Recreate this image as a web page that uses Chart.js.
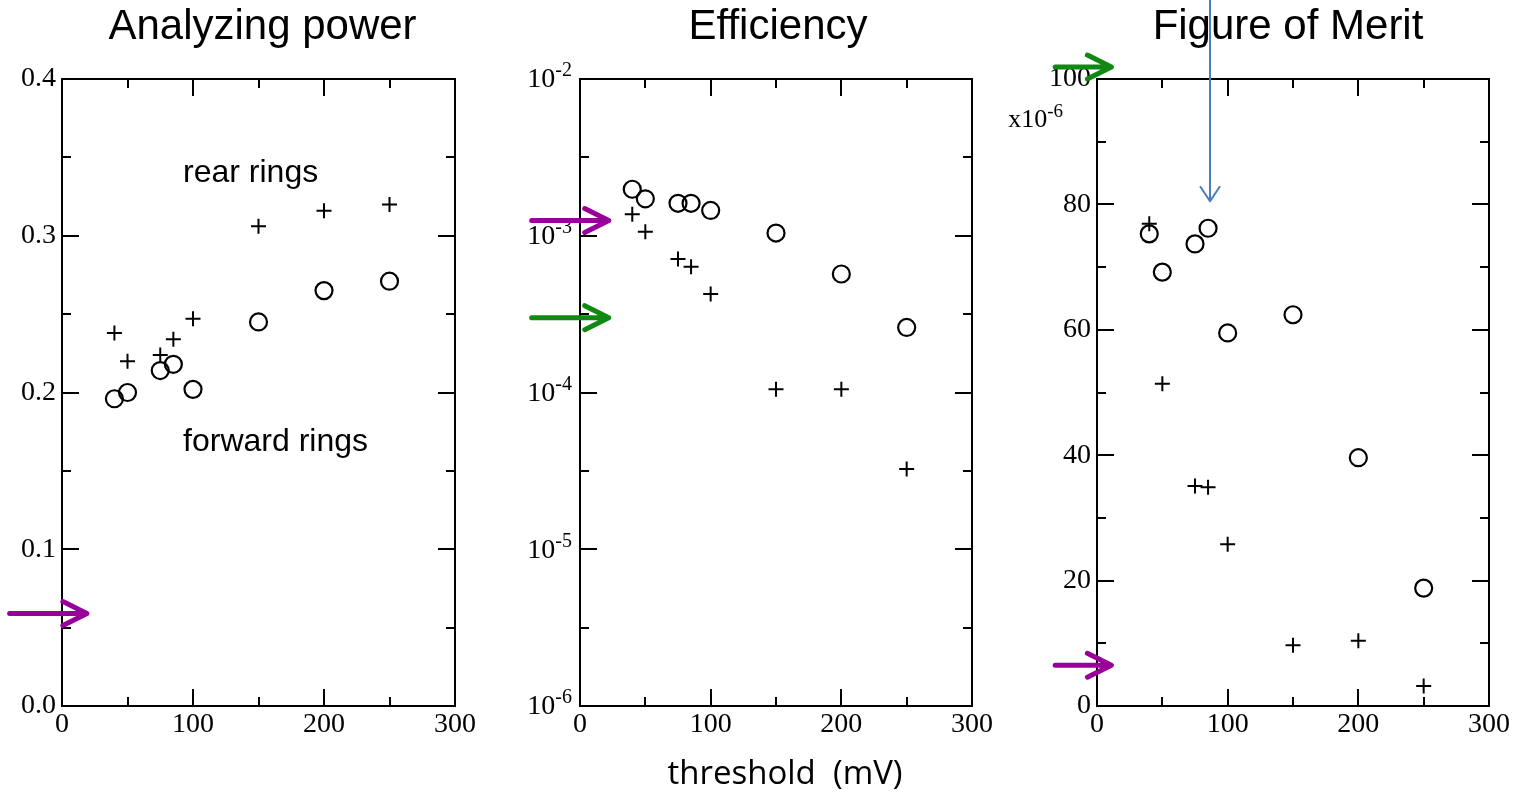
<!DOCTYPE html>
<html>
<head>
<meta charset="utf-8">
<script src="https://cdn.jsdelivr.net/npm/chart.js"></script>
<style>
  body { margin: 0; background: #fff; }
  #wrap { position: relative; width: 1519px; height: 798px; overflow: hidden; }
  canvas { position: absolute; left: 0; top: 0; }
</style>
</head>
<body>
<div id="wrap">
  <canvas id="apChart" width="1519" height="798"></canvas>
  <canvas id="effChart" width="1519" height="798"></canvas>
  <canvas id="fomChart" width="1519" height="798"></canvas>
</div>
<script>
// threshold (mV) for every measured point
const thresholds = [40, 50, 75, 85, 100, 150, 200, 250];

// analyzing power
const apRear    = [0.238, 0.220, 0.224, 0.234, 0.247, 0.306, 0.316, 0.320];
const apForward = [0.196, 0.200, 0.214, 0.218, 0.202, 0.245, 0.265, 0.271];

// efficiency (log scale)
const effRear    = [1.37e-3, 1.06e-3, 7.1e-4, 6.35e-4, 4.25e-4, 1.05e-4, 1.05e-4, 3.25e-5];
const effForward = [1.98e-3, 1.72e-3, 1.61e-3, 1.61e-3, 1.45e-3, 1.04e-3, 5.7e-4, 2.6e-4];

// figure of merit, in units of 1e-6
const fomRear    = [76.9, 51.4, 35.1, 34.9, 25.8, 9.7, 10.4, 3.2];
const fomForward = [75.3, 69.2, 73.7, 76.2, 59.5, 62.4, 39.6, 18.8];

// tick labels
const xTicks = [0, 100, 200, 300];
const xMinor = [50, 150, 250];
const apTicks = [0, 0.1, 0.2, 0.3, 0.4];
const apMinor = [0.05, 0.15, 0.25, 0.35];
const effTicks = [1e-6, 1e-5, 1e-4, 1e-3, 1e-2];
const effMinor = [3.162e-6, 3.162e-5, 3.162e-4, 3.162e-3];
const fomTicks = [0, 20, 40, 60, 80, 100];
const fomMinor = [10, 30, 50, 70, 90];

const serif = '"Liberation Serif", "Times New Roman", serif';
const tickFont = { family: serif, size: 28 };
const sansFont = '"Liberation Sans", Arial, sans-serif';

function pts(xs, ys) {
    return xs.map((x, i) => ({ x: x, y: ys[i] }));
}

// draws "10" with a raised exponent, right edge at x
function powerLabel(ctx, base, exp, x, y, big, small, rise) {
    ctx.font = small + 'px ' + serif;
    const we = ctx.measureText(exp).width;
    ctx.textAlign = 'left';
    ctx.textBaseline = 'middle';
    ctx.fillText(exp, x - we, y - rise);
    ctx.font = big + 'px ' + serif;
    const wb = ctx.measureText(base).width;
    ctx.fillText(base, x - we - wb, y);
}

// frame, inward ticks, titles, arrows and notes
const decoPlugin = {
    id: 'deco',
    afterDraw(chart, args, opts) {
        const ctx = chart.ctx;
        const a = chart.chartArea;
        const xs = chart.scales.x, ys = chart.scales.y;
        ctx.save();
        ctx.strokeStyle = '#000';
        ctx.lineWidth = 2;
        ctx.strokeRect(a.left, a.top, a.right - a.left, a.bottom - a.top);

        ctx.beginPath();
        const hTick = (vals, len) => vals.forEach(v => {
            const y = Math.round(ys.getPixelForValue(v));
            ctx.moveTo(a.left, y); ctx.lineTo(a.left + len, y);
            ctx.moveTo(a.right, y); ctx.lineTo(a.right - len, y);
        });
        const vTick = (vals, len) => vals.forEach(v => {
            const x = Math.round(xs.getPixelForValue(v));
            ctx.moveTo(x, a.top); ctx.lineTo(x, a.top + len);
            ctx.moveTo(x, a.bottom); ctx.lineTo(x, a.bottom - len);
        });
        hTick(opts.yMajor, 17);
        hTick(opts.yMinor, 9);
        vTick(xTicks, 17);
        vTick(xMinor, 9);
        ctx.stroke();

        ctx.fillStyle = '#000';

        // decade labels of a log axis
        if (opts.logLabels) {
            opts.yMajor.forEach(v => {
                const e = String(Math.round(Math.log10(v)));
                powerLabel(ctx, '10', e, a.left - 8, ys.getPixelForValue(v) + 1, 28, 20, 9);
            });
        }

        // title
        ctx.font = '42px ' + sansFont;
        ctx.textAlign = 'center';
        ctx.textBaseline = 'middle';
        ctx.fillText(opts.title, (a.left + a.right) / 2 + (opts.titleShift || 0), 27);

        // notes inside the plot
        ctx.font = '32px ' + sansFont;
        (opts.notes || []).forEach(n => {
            ctx.fillText(n.text, xs.getPixelForValue(n.x), ys.getPixelForValue(n.y));
        });

        // horizontal arrows marking levels
        ctx.lineCap = 'round';
        ctx.lineJoin = 'round';
        (opts.arrows || []).forEach(ar => {
            const y = ys.getPixelForValue(ar.y);
            const x0 = xs.getPixelForValue(ar.from), x1 = xs.getPixelForValue(ar.to);
            ctx.strokeStyle = ar.color;
            ctx.lineWidth = 5;
            ctx.beginPath();
            ctx.moveTo(x0, y); ctx.lineTo(x1 - 3, y);
            ctx.moveTo(x1 - 24, y - 12); ctx.lineTo(x1, y); ctx.lineTo(x1 - 24, y + 12);
            ctx.stroke();
        });

        // vertical pointer
        (opts.pointers || []).forEach(p => {
            const x = xs.getPixelForValue(p.x);
            const y0 = ys.getPixelForValue(p.from), y1 = ys.getPixelForValue(p.to);
            ctx.strokeStyle = p.color;
            ctx.lineWidth = 2;
            ctx.lineCap = 'butt';
            ctx.beginPath();
            ctx.moveTo(x, y0); ctx.lineTo(x, y1);
            ctx.moveTo(x - 10, y1 - 15); ctx.lineTo(x, y1); ctx.lineTo(x + 10, y1 - 15);
            ctx.stroke();
        });

        // multiplier label
        if (opts.multiplier) {
            powerLabel(ctx, 'x10', opts.multiplier, a.left - 34, a.top + 41, 26, 19, 8);
        }

        // common x-axis title
        if (opts.xTitle) {
            ctx.textAlign = 'center';
            ctx.textBaseline = 'middle';
            ctx.font = '33px "Open Sans", "Noto Sans", sans-serif';
            ctx.fillText(opts.xTitle, (a.left + a.right) / 2 + 9, 775);
        }
        ctx.restore();
    }
};

function makeChart(id, cfg) {
    const ctx = document.getElementById(id).getContext('2d');
    return new Chart(ctx, {
        type: 'scatter',
        data: {
            datasets: [{
                label: 'rear rings',
                data: pts(thresholds, cfg.rear),
                pointStyle: 'cross',
                radius: 7.5,
                borderColor: '#000',
                borderWidth: 2
            }, {
                label: 'forward rings',
                data: pts(thresholds, cfg.forward),
                pointStyle: 'circle',
                radius: 8.5,
                borderColor: '#000',
                backgroundColor: 'rgba(0,0,0,0)',
                borderWidth: 2.2
            }]
        },
        plugins: [decoPlugin],
        options: {
            responsive: false,
            animation: false,
            devicePixelRatio: 1,
            events: [],
            layout: {
                padding: { left: cfg.left - cfg.yWidth, right: 1519 - cfg.right, top: 79, bottom: 52 }
            },
            scales: {
                x: {
                    type: 'linear',
                    min: 0,
                    max: 300,
                    grid: { display: false },
                    border: { display: false },
                    afterBuildTicks: s => { s.ticks = xTicks.map(v => ({ value: v })); },
                    afterFit: s => { s.height = 40; },
                    ticks: { font: tickFont, color: '#000', padding: -6, maxRotation: 0 }
                },
                y: {
                    type: cfg.log ? 'logarithmic' : 'linear',
                    min: cfg.yTicks[0],
                    max: cfg.yTicks[cfg.yTicks.length - 1],
                    grid: { display: false },
                    border: { display: false },
                    afterBuildTicks: s => { s.ticks = cfg.yTicks.map(v => ({ value: v })); },
                    afterFit: s => { s.width = cfg.yWidth; },
                    ticks: {
                        display: !cfg.log,
                        font: tickFont, color: '#000', padding: -2,
                        callback: cfg.fmt
                    }
                }
            },
            plugins: {
                legend: { display: false },
                tooltip: { enabled: false },
                deco: cfg.deco
            }
        }
    });
}

makeChart('apChart', {
    rear: apRear, forward: apForward,
    left: 62, right: 455, yWidth: 56,
    yTicks: apTicks,
    fmt: v => Number(v).toFixed(1),
    deco: {
        title: 'Analyzing power', titleShift: 4,
        yMajor: apTicks, yMinor: apMinor,
        notes: [{ text: 'rear rings', x: 144, y: 0.340 }, { text: 'forward rings', x: 163, y: 0.168 }],
        arrows: [{ y: 0.059, from: -40, to: 19, color: '#990099' }]
    }
});

makeChart('effChart', {
    rear: effRear, forward: effForward,
    left: 580, right: 972, yWidth: 60, log: true,
    yTicks: effTicks,
    fmt: v => v,
    deco: {
        title: 'Efficiency', titleShift: 2,
        yMajor: effTicks, yMinor: effMinor,
        logLabels: true,
        arrows: [
            { y: 1.25e-3, from: -37, to: 22, color: '#990099' },
            { y: 3.0e-4, from: -37, to: 22, color: '#118811' }
        ],
        xTitle: 'threshold  (mV)'
    }
});

makeChart('fomChart', {
    rear: fomRear, forward: fomForward,
    left: 1097, right: 1489, yWidth: 56,
    yTicks: fomTicks,
    fmt: v => String(v),
    deco: {
        title: 'Figure of Merit', titleShift: -5,
        yMajor: fomTicks, yMinor: fomMinor,
        multiplier: '-6',
        arrows: [
            { y: 101.9, from: -32, to: 11, color: '#118811' },
            { y: 6.5, from: -32, to: 11, color: '#990099' }
        ],
        pointers: [{ x: 86.5, from: 114, to: 80.5, color: '#4a7ebb' }]
    }
});
</script>
</body>
</html>
